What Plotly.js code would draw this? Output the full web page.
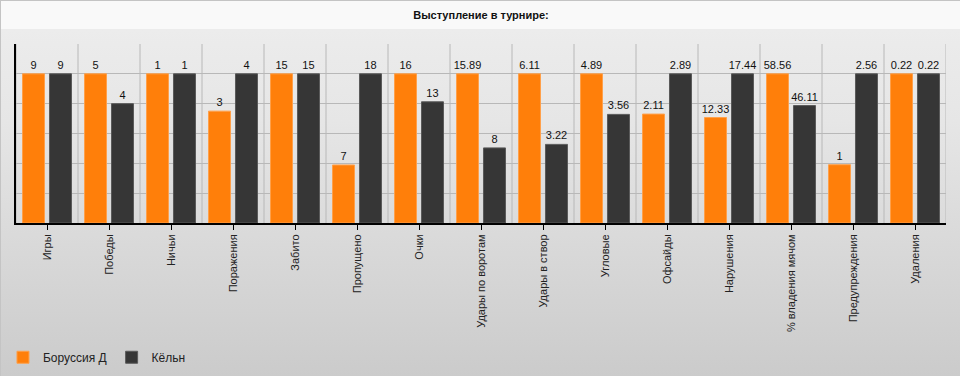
<!DOCTYPE html>
<html>
<head>
<meta charset="utf-8">
<script src="https://cdn.plot.ly/plotly-3.0.1.min.js"></script>
<style>
  html, body { margin: 0; padding: 0; overflow: hidden; }
  #wrap {
    position: relative; width: 960px; height: 376px; box-sizing: border-box;
    border-top: 1px solid #c4c4c4; border-left: 1px solid #c4c4c4;
    background: linear-gradient(to bottom, #f9f9f9 0px, #f9f9f9 28px, #ececec 28px, #e6e6e6 120px, #cbcbcb 376px);
  }
  #chart { position: absolute; left: -1px; top: -1px; width: 960px; height: 376px; }
</style>
</head>
<body>
<div id="wrap"><div id="chart"></div></div>
<script>
const categories = ["Игры", "Победы", "Ничьи", "Поражения", "Забито", "Пропущено", "Очки",
  "Удары по воротам", "Удары в створ", "Угловые", "Офсайды", "Нарушения",
  "% владения мячом", "Предупреждения", "Удаления"];
const borussiaValues = [9, 5, 1, 3, 15, 7, 16, 15.89, 6.11, 4.89, 2.11, 12.33, 58.56, 1, 0.22];
const koelnValues = [9, 4, 1, 4, 15, 18, 13, 8, 3.22, 3.56, 2.89, 17.44, 46.11, 2.56, 0.22];
const seriesNames = ["Боруссия Д", "Кёльн"];
const chartTitle = "Выступление в турнире:";

// each category is scaled to its larger value
const maxima = categories.map((c, i) => Math.max(borussiaValues[i], koelnValues[i]));
const share = vals => vals.map((v, i) => v / maxima[i]);

const common = {
  type: "bar",
  x: categories,
  textposition: "outside",
  constraintext: "none",
  cliponaxis: false,
  textfont: { family: "Arial, 'Liberation Sans', sans-serif", size: 11, color: "#111" },
  hoverinfo: "skip"
};

const traces = [
  Object.assign({}, common, {
    name: seriesNames[0],
    y: share(borussiaValues),
    text: borussiaValues.map(String),
    marker: { color: "#ff7f0a", line: { color: "#ffa04a", width: 1 } }
  }),
  Object.assign({}, common, {
    name: seriesNames[1],
    y: share(koelnValues),
    text: koelnValues.map(String),
    marker: { color: "#363636", line: { color: "#5a5a5a", width: 1 } }
  })
];

// vertical grid lines at category boundaries
const shapes = [];
for (let k = 0; k <= categories.length; k++) {
  shapes.push({
    type: "line", xref: "x", yref: "paper", layer: "below",
    x0: k - 0.5, x1: k - 0.5, y0: 0, y1: 1,
    line: { color: "#b8b8b8", width: 1 }
  });
}

const layout = {
  width: 960, height: 376,
  margin: { l: 16, r: 14, t: 44, b: 153, autoexpand: false },
  paper_bgcolor: "rgba(0,0,0,0)",
  plot_bgcolor: "rgba(0,0,0,0)",
  font: { family: "Arial, 'Liberation Sans', sans-serif", size: 11, color: "#222" },
  title: {
    text: "<b>" + chartTitle + "</b>",
    x: 0.5, xref: "paper", xanchor: "center",
    y: 1 - 15 / 376, yref: "container", yanchor: "middle",
    font: { family: "Arial, 'Liberation Sans', sans-serif", size: 11, color: "#111" }
  },
  barmode: "group",
  bargap: 0.13,
  bargroupgap: 0.185,
  showlegend: true,
  legend: {
    orientation: "h",
    x: -0.014, xanchor: "left",
    y: -0.75, yanchor: "middle",
    font: { family: "Arial, 'Liberation Sans', sans-serif", size: 12, color: "#222" },
    bgcolor: "rgba(0,0,0,0)",
    itemwidth: 30
  },
  xaxis: {
    type: "category",
    range: [-0.5, categories.length - 0.5],
    showgrid: false,
    showline: true, linecolor: "#000", linewidth: 2,
    ticks: "outside", ticklen: 5, tickwidth: 1, tickcolor: "#000",
    tickangle: -90,
    automargin: false,
    tickfont: { family: "Arial, 'Liberation Sans', sans-serif", size: 11, color: "#222" },
    fixedrange: true
  },
  yaxis: {
    range: [0, 1.2],
    dtick: 0.2, tick0: 0,
    showgrid: true, gridcolor: "#b8b8b8", gridwidth: 1,
    zeroline: false,
    showticklabels: false, ticks: "",
    showline: true, linecolor: "#000", linewidth: 2,
    automargin: false,
    fixedrange: true
  },
  shapes: shapes,
  hovermode: false
};

Plotly.newPlot("chart", traces, layout, { displayModeBar: false, staticPlot: true });
</script>
</body>
</html>
